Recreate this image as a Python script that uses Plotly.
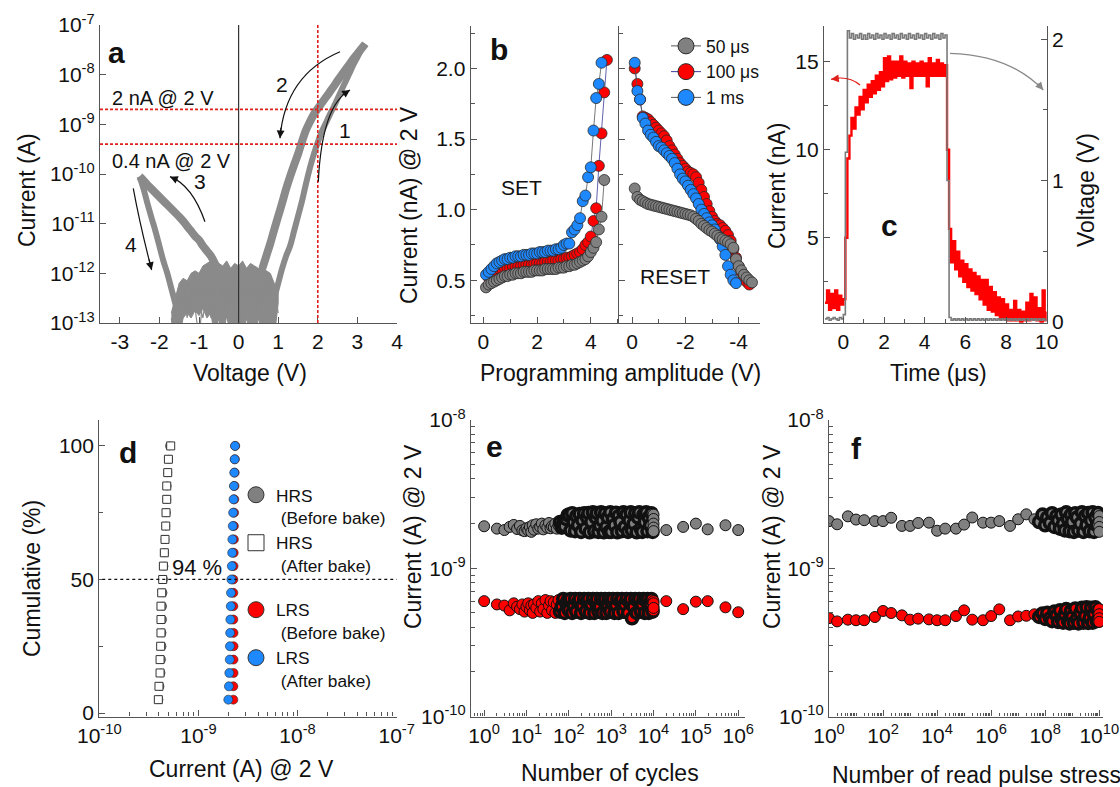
import numpy as np
import plotly.graph_objects as go

W, H = 1120, 787
def fx(px): return px / W
def fy(py): return 1 - py / H

FONT = "Liberation Sans, Arial, sans-serif"
GRAY = "#808080"; RED = "#ff0000"; BLUE = "#1e88ff"; EDGE = "#2a2a2a"; AX = "#555555"
TXT = "#111111"

# ---------------- panel a : I-V sweeps (log10 of current in A) ----------------
a_v_set = [0.9, 1.0, 1.1, 1.2, 1.3, 1.4, 1.5, 1.6, 1.7, 1.8, 1.9, 2.0, 2.1, 2.2, 2.3, 2.4, 2.5, 2.6, 2.7, 2.8, 2.9, 3.0, 3.1, 3.2]
a_log_set = [-12.5, -12.2, -11.9, -11.65, -11.45, -11.15, -10.85, -10.55, -10.2, -9.88, -9.6, -9.36, -9.15, -8.98, -8.81, -8.65, -8.48, -8.31, -8.14, -7.97, -7.8, -7.65, -7.5, -7.38]
a_v_back = [3.2, 3.1, 3.0, 2.9, 2.8, 2.7, 2.6, 2.5, 2.4, 2.3, 2.2, 2.1, 2.0, 1.9, 1.8, 1.7, 1.6, 1.5, 1.4, 1.3, 1.2, 1.1, 1.0, 0.9, 0.8, 0.7, 0.6]
a_log_back = [-7.38, -7.48, -7.58, -7.68, -7.79, -7.9, -8.01, -8.12, -8.24, -8.35, -8.46, -8.57, -8.68, -8.8, -8.95, -9.12, -9.35, -9.6, -9.82, -10.05, -10.3, -10.58, -10.85, -11.12, -11.4, -11.65, -11.9]
a_v_neg = [-0.5, -0.6, -0.7, -0.8, -0.9, -1.0, -1.1, -1.2, -1.3, -1.4, -1.5, -1.6, -1.7, -1.8, -1.9, -2.0, -2.1, -2.2, -2.3, -2.4, -2.5]
a_log_neg = [-12.0, -11.8, -11.65, -11.55, -11.45, -11.33, -11.25, -11.15, -11.05, -10.95, -10.86, -10.78, -10.7, -10.62, -10.54, -10.46, -10.38, -10.3, -10.22, -10.13, -10.05]
a_v_ret = [-2.5, -2.4, -2.3, -2.2, -2.1, -2.0, -1.9, -1.8, -1.7, -1.6, -1.5]
a_log_ret = [-10.05, -10.3, -10.6, -10.88, -11.15, -11.45, -11.75, -12.0, -12.3, -12.6, -12.9]
a_v_noise = [-1.7, -1.6, -1.5, -1.4, -1.3, -1.2, -1.1, -1.0, -0.9, -0.8, -0.7, -0.6, -0.5, -0.4, -0.3, -0.2, -0.1, 0.0, 0.1, 0.2, 0.3, 0.4, 0.5, 0.6, 0.7, 0.8, 0.9, 1.0]
a_log_noise_top = [-12.8, -12.5, -12.2, -12.1, -12.15, -12.0, -11.95, -12.0, -11.85, -11.8, -11.75, -11.9, -11.8, -11.85, -11.75, -11.9, -11.8, -11.85, -11.75, -11.9, -11.8, -11.85, -11.9, -11.85, -11.95, -12.0, -12.2, -12.4]
a_log_noise_bot = [-13.3, -13.3, -13.3, -12.9, -12.8, -12.9, -12.75, -12.85, -12.7, -12.9, -12.8, -13.3, -12.9, -13.3, -12.85, -13.3, -13.3, -13.3, -13.3, -12.9, -13.3, -13.3, -12.9, -13.3, -13.3, -13.3, -13.3, -12.6]
a_log_noise1 = [-13.3, -12.6, -12.3, -12.6, -12.2, -12.5, -12.1, -12.4, -12.0, -12.6, -12.2, -12.5, -11.9, -12.7, -12.3, -12.6, -12.1, -12.8, -12.2, -12.5, -11.9, -12.4, -12.2, -12.6, -12.0, -12.5, -12.9, -13.3]
a_log_noise2 = [-12.9, -13.3, -12.8, -12.2, -12.9, -12.3, -12.7, -13.3, -12.5, -12.2, -12.9, -12.4, -13.3, -12.2, -12.7, -13.3, -12.4, -12.1, -13.3, -12.6, -12.3, -13.3, -12.5, -12.1, -12.8, -13.3, -12.3, -12.8]
a_log_noise3 = [-13.3, -12.4, -13.3, -12.7, -12.4, -12.8, -12.2, -12.6, -12.9, -12.3, -12.6, -13.3, -12.5, -12.3, -12.9, -12.2, -12.6, -13.3, -12.4, -12.2, -12.8, -12.3, -12.7, -13.3, -12.4, -12.1, -13.3, -13.3]
a_read_levels = [2e-9, 4e-10]
a_read_v = 2.0
a_xticks = [-3, -2, -1, 0, 1, 2, 3, 4]
a_yexp = [-13, -12, -11, -10, -9, -8, -7]

# ---------------- panel b : programming amplitude ----------------
b_set_v_50 = [0.1, 0.2, 0.3, 0.4, 0.5, 0.6, 0.7, 0.8, 0.9, 1.0, 1.1, 1.2, 1.3, 1.4, 1.5, 1.6, 1.7, 1.8, 1.9, 2.0, 2.1, 2.2, 2.3, 2.4, 2.5, 2.6, 2.7, 2.8, 2.9, 3.0, 3.1, 3.2, 3.3, 3.4, 3.5, 3.6, 3.7, 3.8, 3.9, 4.0, 4.1, 4.2, 4.3, 4.4, 4.5]
b_set_i_50 = [0.45, 0.47, 0.48, 0.49, 0.50, 0.51, 0.52, 0.53, 0.53, 0.54, 0.54, 0.55, 0.55, 0.55, 0.56, 0.56, 0.56, 0.56, 0.57, 0.57, 0.57, 0.57, 0.58, 0.58, 0.58, 0.58, 0.58, 0.59, 0.59, 0.59, 0.60, 0.60, 0.61, 0.61, 0.62, 0.63, 0.64, 0.65, 0.67, 0.70, 0.73, 0.77, 0.86, 0.95, 1.21]
b_set_v_100 = [0.2, 0.3, 0.4, 0.5, 0.6, 0.7, 0.8, 0.9, 1.0, 1.1, 1.2, 1.3, 1.4, 1.5, 1.6, 1.7, 1.8, 1.9, 2.0, 2.1, 2.2, 2.3, 2.4, 2.5, 2.6, 2.7, 2.8, 2.9, 3.0, 3.1, 3.2, 3.3, 3.4, 3.5, 3.6, 3.7, 3.8, 3.9, 4.0, 4.1, 4.2, 4.3, 4.4, 4.5, 4.6]
b_set_i_100 = [0.52, 0.54, 0.56, 0.57, 0.58, 0.58, 0.59, 0.59, 0.59, 0.60, 0.60, 0.60, 0.60, 0.61, 0.61, 0.61, 0.61, 0.62, 0.62, 0.62, 0.62, 0.63, 0.63, 0.63, 0.64, 0.64, 0.64, 0.65, 0.65, 0.66, 0.66, 0.67, 0.68, 0.69, 0.70, 0.72, 0.75, 0.77, 0.81, 0.92, 1.01, 1.31, 1.54, 1.83, 2.06]
b_set_v_1m = [0.1, 0.2, 0.3, 0.4, 0.5, 0.6, 0.7, 0.8, 0.9, 1.0, 1.1, 1.2, 1.3, 1.4, 1.5, 1.6, 1.7, 1.8, 1.9, 2.0, 2.1, 2.2, 2.3, 2.4, 2.5, 2.6, 2.7, 2.8, 2.9, 3.0, 3.1, 3.2, 3.3, 3.4, 3.5, 3.6, 3.7, 3.8, 3.9, 4.0, 4.1, 4.2, 4.3, 4.4]
b_set_i_1m = [0.54, 0.56, 0.58, 0.60, 0.62, 0.63, 0.64, 0.65, 0.65, 0.66, 0.66, 0.67, 0.67, 0.67, 0.68, 0.68, 0.68, 0.69, 0.69, 0.69, 0.70, 0.70, 0.70, 0.71, 0.71, 0.71, 0.72, 0.72, 0.73, 0.75, 0.76, 0.76, 0.84, 0.86, 0.89, 0.94, 1.06, 1.10, 1.23, 1.30, 1.56, 1.79, 1.89, 2.04]
b_rst_v_50 = [-0.1, -0.2, -0.3, -0.4, -0.5, -0.6, -0.7, -0.8, -0.9, -1.0, -1.1, -1.2, -1.3, -1.4, -1.5, -1.6, -1.7, -1.8, -1.9, -2.0, -2.1, -2.2, -2.3, -2.4, -2.5, -2.6, -2.7, -2.8, -2.9, -3.0, -3.1, -3.2, -3.3, -3.4, -3.5, -3.6, -3.7, -3.8, -3.9, -4.0, -4.1, -4.2, -4.3, -4.4, -4.5]
b_rst_i_50 = [1.15, 1.09, 1.07, 1.06, 1.05, 1.04, 1.035, 1.03, 1.025, 1.02, 1.015, 1.01, 1.005, 1.0, 0.995, 0.99, 0.985, 0.98, 0.975, 0.97, 0.965, 0.96, 0.95, 0.935, 0.92, 0.90, 0.885, 0.87, 0.855, 0.845, 0.83, 0.815, 0.80, 0.79, 0.78, 0.77, 0.755, 0.73, 0.65, 0.60, 0.57, 0.54, 0.52, 0.50, 0.485]
b_rst_v_100 = [-0.1, -0.2, -0.3, -0.4, -0.5, -0.6, -0.7, -0.8, -0.9, -1.0, -1.1, -1.2, -1.3, -1.4, -1.5, -1.6, -1.7, -1.8, -1.9, -2.0, -2.1, -2.2, -2.3, -2.4, -2.5, -2.6, -2.7, -2.8, -2.9, -3.0, -3.1, -3.2, -3.3, -3.4, -3.5, -3.6, -3.7, -3.8, -3.9, -4.0, -4.1, -4.2, -4.3, -4.4]
b_rst_i_100 = [2.00, 1.89, 1.78, 1.66, 1.65, 1.64, 1.62, 1.60, 1.58, 1.56, 1.54, 1.52, 1.49, 1.45, 1.42, 1.39, 1.36, 1.33, 1.31, 1.29, 1.27, 1.26, 1.25, 1.23, 1.19, 1.14, 1.09, 1.04, 0.99, 0.95, 0.92, 0.90, 0.89, 0.87, 0.85, 0.82, 0.78, 0.72, 0.66, 0.60, 0.56, 0.52, 0.49, 0.47]
b_rst_v_1m = [-0.1, -0.2, -0.3, -0.4, -0.5, -0.6, -0.7, -0.8, -0.9, -1.0, -1.1, -1.2, -1.3, -1.4, -1.5, -1.6, -1.7, -1.8, -1.9, -2.0, -2.1, -2.2, -2.3, -2.4, -2.5, -2.6, -2.7, -2.8, -2.9, -3.0, -3.1, -3.2, -3.3, -3.4, -3.5, -3.6, -3.7, -3.8, -3.9]
b_rst_i_1m = [2.04, 1.84, 1.78, 1.65, 1.61, 1.56, 1.53, 1.51, 1.48, 1.45, 1.44, 1.42, 1.40, 1.38, 1.36, 1.33, 1.29, 1.25, 1.22, 1.20, 1.17, 1.14, 1.11, 1.08, 1.04, 1.00, 0.97, 0.94, 0.91, 0.89, 0.86, 0.82, 0.79, 0.74, 0.68, 0.60, 0.54, 0.50, 0.48]
b_labels = ["50 μs", "100 μs", "1 ms"]

# ---------------- panel c : pulse response ----------------
c_time = np.round(np.arange(-0.9, 10.0001, 0.1), 2)
c_current = [1.3, 2.0, 0.9, 1.8, 1.0, 2.0, 0.9, 1.7, 1.2,
             1.5, 5.0, 9.5, 10.8, 11.8, 11.2, 12.4, 12.0, 13.0, 12.3,
             13.4, 12.7, 13.7, 13.0, 13.9, 13.2, 14.2, 13.4, 14.4, 13.6,
             15.2, 13.9, 15.3, 14.0, 15.0, 14.1, 15.0, 14.2, 15.3, 14.1,
             15.0, 14.2, 14.9, 13.5, 15.0, 14.2, 14.9, 14.2, 15.0, 14.2,
             14.9, 13.6, 15.2, 14.2, 14.9, 14.2, 15.1, 14.2, 14.9, 14.2,
             14.8, 10.0, 5.5, 3.6, 4.8, 3.2, 4.2, 2.8, 3.7, 2.5,
             3.5, 2.2, 3.2, 2.0, 3.0, 1.8, 2.8, 1.5, 2.6, 1.2,
             2.6, 0.9, 2.2, 0.8, 1.9, 0.6, 1.6, 0.4, 1.5, 0.4,
             1.2, 0.3, 0.9, 0.3, 1.4, 0.3, 0.9, 0.2, 0.8, 0.3,
             1.3, 0.3, 1.8, 0.4, 1.6, 0.3, 1.0, 0.2, 2.0, 0.3, 0.8]
c_voltage = [0.02, 0.03, 0.01, 0.02, 0.03, 0.02, 0.01, 0.03, 0.02,
             0.05, 1.20, 2.06, 2.01, 2.04, 2.00, 2.03, 2.01, 2.04, 2.00,
             2.03, 2.00, 2.04, 2.01, 2.03, 2.00, 2.04, 2.01, 2.03, 2.00,
             2.04, 2.01, 2.03, 2.00, 2.04, 2.01, 2.03, 2.00, 2.04, 2.01,
             2.03, 2.00, 2.04, 2.01, 2.03, 2.00, 2.04, 2.01, 2.03, 2.00,
             2.04, 2.01, 2.03, 2.00, 2.04, 2.01, 2.03, 2.00, 2.04, 2.01,
             2.03, 1.00, 0.03, 0.01, 0.02, 0.01, 0.02, 0.01, 0.02, 0.01,
             0.02, 0.01, 0.02, 0.01, 0.02, 0.01, 0.02, 0.01, 0.02, 0.01,
             0.02, 0.01, 0.02, 0.01, 0.02, 0.01, 0.02, 0.01, 0.02, 0.01,
             0.02, 0.01, 0.02, 0.01, 0.02, 0.01, 0.02, 0.01, 0.02, 0.01,
             0.02, 0.01, 0.02, 0.01, 0.02, 0.01, 0.02, 0.01, 0.02, 0.01, 0.02]

# ---------------- panel d : retention distribution ----------------
d_cum = [5, 10, 15, 20, 25, 30, 35, 40, 45, 50, 55, 60, 65, 70, 75, 80, 85, 90, 95, 100]
d_hrs_before = [4.0, 4.1, 4.2, 4.25, 4.3, 4.3, 4.35, 4.35, 4.4, 4.45, 4.5, 4.55, 4.6, 4.7, 4.75, 4.8, 4.85, 4.9, 5.0, 5.1]      # x1e-10 A
d_hrs_after = [3.94, 4.00, 4.10, 4.10, 4.16, 4.19, 4.19, 4.19, 4.26, 4.36, 4.43, 4.53, 4.60, 4.68, 4.71, 4.79, 4.79, 4.90, 4.98, 5.25]  # x1e-10 A
d_lrs_before = [2.25, 2.25, 2.26, 2.26, 2.26, 2.26, 2.25, 2.25, 2.25, 2.25, 2.26, 2.27, 2.28, 2.28, 2.29, 2.30, 2.31, 2.32, 2.33, 2.35]  # x1e-9 A
d_lrs_after = [2.00, 2.03, 2.05, 2.07, 2.08, 2.09, 2.10, 2.12, 2.13, 2.15, 2.17, 2.19, 2.20, 2.22, 2.24, 2.26, 2.28, 2.30, 2.32, 2.34]   # x1e-9 A

# ---------------- panel e : endurance ----------------
e_cycles = [1, 2, 3, 4, 5, 6, 7, 8, 9, 10,
            11, 12, 13, 14, 15, 17, 19, 21, 23, 25,
            28, 31, 34, 37, 40, 44, 48, 52, 57, 62,
            68, 74, 80, 87, 94, 100, 110, 120, 130, 140,
            150, 165, 180, 195, 210, 230, 250, 270, 290, 310,
            340, 370, 400, 430, 460, 500, 540, 580, 620, 670,
            720, 770, 830, 890, 950, 1000, 1100, 1200, 1300, 1400,
            1500, 1650, 1800, 1950, 2100, 2300, 2500, 2700, 2900, 3100,
            3400, 3700, 4000, 4300, 4600, 5000, 5400, 5800, 6200, 6700,
            7200, 7700, 8300, 8900, 9500, 10000, 10000, 10000, 10000, 10000,
            20000, 50000, 100000, 190000, 500000, 1000000]
e_hrs = [1.92, 1.85, 1.81, 1.90, 1.96, 1.84, 1.93, 1.80, 1.78, 1.86,
         1.80, 1.90, 1.76, 1.95, 1.82, 1.98, 1.85, 1.90, 2.00, 1.83,
         1.95, 1.88, 2.02, 1.86, 1.92, 1.90, 2.00, 1.85, 1.95, 2.05,
         1.88, 2.02, 1.92, 2.15, 2.28, 2.30, 1.80, 2.35, 2.05, 1.78,
         2.25, 1.95, 2.32, 1.76, 2.10, 2.35, 1.85, 2.20, 2.36, 1.75,
         2.05, 2.38, 1.78, 2.20, 2.36, 1.76, 1.95, 2.38, 2.10, 1.75,
         2.35, 1.90, 2.20, 1.76, 2.38, 1.76, 2.15, 1.95, 2.37, 1.75,
         2.25, 2.05, 1.78, 2.38, 1.90, 2.30, 1.76, 2.10, 2.38, 1.80,
         2.00, 2.35, 1.75, 2.20, 2.38, 1.85, 1.76, 2.30, 2.05, 2.38,
         1.78, 2.20, 1.95, 2.35, 1.76, 2.30, 2.15, 2.00, 1.88, 1.78,
         1.81, 1.90, 2.00, 1.83, 1.95, 1.81]   # nA
e_lrs = [0.60, 0.57, 0.56, 0.52, 0.58, 0.55, 0.53, 0.57, 0.51, 0.55,
         0.58, 0.52, 0.56, 0.50, 0.57, 0.54, 0.60, 0.51, 0.58, 0.53,
         0.61, 0.50, 0.56, 0.60, 0.52, 0.59, 0.50, 0.57, 0.61, 0.51,
         0.55, 0.62, 0.50, 0.58, 0.61, 0.52, 0.62, 0.50, 0.57, 0.62,
         0.51, 0.59, 0.62, 0.50, 0.56, 0.62, 0.51, 0.60, 0.62, 0.50,
         0.57, 0.62, 0.50, 0.59, 0.62, 0.51, 0.55, 0.62, 0.50, 0.60,
         0.62, 0.50, 0.57, 0.62, 0.51, 0.59, 0.62, 0.50, 0.56, 0.62,
         0.50, 0.60, 0.62, 0.51, 0.57, 0.62, 0.50, 0.59, 0.62, 0.46,
         0.55, 0.62, 0.50, 0.60, 0.62, 0.51, 0.57, 0.62, 0.50, 0.61,
         0.62, 0.50, 0.58, 0.62, 0.51, 0.60, 0.55, 0.52, 0.58, 0.54,
         0.60, 0.53, 0.595, 0.60, 0.545, 0.505]   # nA

# ---------------- panel f : read disturb ----------------
f_pulses = [1, 2, 5, 10, 20, 50, 100, 200, 500, 1e3, 2e3, 5e3, 1e4, 2e4, 5e4, 1e5, 2e5, 5e5, 1e6, 2e6, 5e6, 1e7, 2e7, 4e7,
            6e7, 8e7, 1e8, 1.2e8, 1.5e8, 1.8e8, 2.2e8, 2.6e8, 3e8, 3.5e8, 4e8, 4.6e8, 5.3e8, 6e8, 7e8, 8e8, 9e8, 1e9,
            1.15e9, 1.3e9, 1.5e9, 1.7e9, 2e9, 2.3e9, 2.6e9, 3e9, 3.4e9, 3.9e9, 4.4e9, 5e9, 5.7e9, 6.4e9, 7.2e9, 8.1e9, 9e9, 1e10,
            1e10, 1e10, 1e10, 1e10]
f_hrs = [2.08, 1.98, 2.24, 2.13, 2.11, 2.08, 2.08, 2.19, 1.93, 1.93, 2.02, 2.03, 1.79, 1.85, 1.85, 1.97, 2.20, 2.03, 2.03, 2.08, 1.93, 2.14, 2.31, 2.14,
         2.05, 2.30, 1.95, 2.20, 2.02, 2.35, 1.90, 2.25, 2.10, 1.85, 2.30, 2.00, 1.80, 2.38, 2.15, 1.78, 2.30, 2.05,
         1.76, 2.35, 2.20, 1.80, 2.00, 2.38, 1.76, 2.25, 1.95, 2.36, 1.78, 2.10, 2.38, 1.76, 2.20, 1.95, 2.36, 1.80,
         2.25, 2.05, 1.90, 1.76]   # nA
f_lrs = [0.461, 0.438, 0.450, 0.446, 0.446, 0.469, 0.515, 0.499, 0.481, 0.450, 0.457, 0.452, 0.446, 0.446, 0.476, 0.520, 0.450, 0.446, 0.476, 0.528, 0.446, 0.473, 0.478, 0.489,
         0.470, 0.495, 0.455, 0.500, 0.460, 0.440, 0.510, 0.480, 0.435, 0.520, 0.455, 0.430, 0.490, 0.530, 0.440, 0.425, 0.515, 0.470,
         0.430, 0.535, 0.455, 0.425, 0.500, 0.540, 0.430, 0.475, 0.545, 0.428, 0.460, 0.540, 0.430, 0.490, 0.545, 0.440, 0.520, 0.435,
         0.530, 0.490, 0.460, 0.435]   # nA

# =====================================================================
fig = go.Figure()
def na(v): return [x * 1e-9 for x in v]
def pw(v): return [10.0 ** x for x in v]

# ---- panel a traces
GA = "#8a8a8a"
fig.add_trace(go.Scatter(x=a_v_noise + a_v_noise[::-1], y=pw(a_log_noise_top) + pw(a_log_noise_bot)[::-1],
                         fill="toself", fillcolor=GA, line=dict(color=GA, width=1), mode="lines",
                         xaxis="x", yaxis="y", showlegend=False, hoverinfo="skip"))
for arr in (a_log_noise1, a_log_noise2, a_log_noise3):
    fig.add_trace(go.Scatter(x=a_v_noise, y=pw(arr), mode="lines", line=dict(color=GA, width=1.2),
                             xaxis="x", yaxis="y", showlegend=False, hoverinfo="skip"))
for vv, ll, w in ((a_v_set, a_log_set, 6), (a_v_back, a_log_back, 8), (a_v_neg, a_log_neg, 8), (a_v_ret, a_log_ret, 6)):
    fig.add_trace(go.Scatter(x=vv, y=pw(ll), mode="lines", line=dict(color=GA, width=w, shape="spline"),
                             xaxis="x", yaxis="y", showlegend=False, hoverinfo="skip"))

# ---- panel b traces
b_line_cols = ["#555555", "#3a3a9a", "#555555"]
b_fill = [GRAY, RED, BLUE]
b_set = [(b_set_v_50, b_set_i_50), (b_set_v_100, b_set_i_100), (b_set_v_1m, b_set_i_1m)]
b_rst = [(b_rst_v_50, b_rst_i_50), (b_rst_v_100, b_rst_i_100), (b_rst_v_1m, b_rst_i_1m)]
for k in (1, 2, 0):
    mk = dict(size=11, color=b_fill[k], line=dict(color=EDGE, width=0.8))
    fig.add_trace(go.Scatter(x=b_set[k][0], y=b_set[k][1], mode="lines+markers", marker=mk,
                             line=dict(color=b_line_cols[k], width=0.8), xaxis="x2", yaxis="y2", showlegend=False))
    fig.add_trace(go.Scatter(x=b_rst[k][0], y=b_rst[k][1], mode="lines+markers", marker=mk,
                             line=dict(color=b_line_cols[k], width=0.8), xaxis="x3", yaxis="y3", showlegend=False))
for k in range(3):
    fig.add_trace(go.Scatter(x=[None], y=[None], mode="lines+markers", name=b_labels[k],
                             marker=dict(size=16, color=b_fill[k], line=dict(color=EDGE, width=1)),
                             line=dict(color=b_line_cols[k], width=1), xaxis="x2", yaxis="y2",
                             legend="legend", showlegend=True))

# ---- panel c traces
fig.add_trace(go.Scatter(x=c_time, y=c_current, mode="lines", line=dict(color=RED, width=2.4, shape="hv"),
                         xaxis="x4", yaxis="y4", showlegend=False))
fig.add_trace(go.Scatter(x=c_time, y=c_voltage, mode="lines", line=dict(color="#7a7a7a", width=1.6, shape="hv"),
                         xaxis="x4", yaxis="y5", showlegend=False))

# ---- panel d traces
fig.add_trace(go.Scatter(x=[v * 1e-10 for v in d_hrs_before], y=d_cum, mode="markers",
                         marker=dict(size=8, color=GRAY, line=dict(color=EDGE, width=0.6)),
                         xaxis="x5", yaxis="y6", showlegend=False))
fig.add_trace(go.Scatter(x=[v * 1e-10 for v in d_hrs_after], y=d_cum, mode="markers",
                         marker=dict(size=8, symbol="square", color="white", line=dict(color="#333", width=1)),
                         xaxis="x5", yaxis="y6", showlegend=False))
fig.add_trace(go.Scatter(x=na(d_lrs_before), y=d_cum, mode="markers",
                         marker=dict(size=9, color=RED, line=dict(color=EDGE, width=0.6)),
                         xaxis="x5", yaxis="y6", showlegend=False))
fig.add_trace(go.Scatter(x=na(d_lrs_after), y=d_cum, mode="markers",
                         marker=dict(size=9, color=BLUE, line=dict(color=EDGE, width=0.6)),
                         xaxis="x5", yaxis="y6", showlegend=False))
d_leg = [("HRS<br>\u00a0(Before bake)", dict(color=GRAY, symbol="circle"), "HRS"),
         ("HRS<br>\u00a0(After bake)", dict(color="white", symbol="square"), "HRS"),
         ("LRS<br>\u00a0(Before bake)", dict(color=RED, symbol="circle"), "LRS"),
         ("LRS<br>\u00a0(After bake)", dict(color=BLUE, symbol="circle"), "LRS")]
for name, m, grp in d_leg:
    fig.add_trace(go.Scatter(x=[None], y=[None], mode="markers", name=name, legendgroup=grp,
                             marker=dict(size=16, line=dict(color="#333", width=1), **m),
                             xaxis="x5", yaxis="y6", legend="legend2", showlegend=True))

# ---- panel e, f traces (dense stretches drawn with heavier outlines, as many overlapping points do)
for xs, hs, ls, xa, ya, lo, hi in ((e_cycles, e_hrs, e_lrs, "x6", "y7", 60, 1e4),
                                   (f_pulses, f_hrs, f_lrs, "x7", "y8", 5e7, 1e10)):
    lw = [3.6 if lo <= v < hi else 1.0 for v in xs]
    fig.add_trace(go.Scatter(x=xs, y=na(hs), mode="markers",
                             marker=dict(size=11, color=GRAY, line=dict(color="#111", width=lw)),
                             xaxis=xa, yaxis=ya, showlegend=False))
    fig.add_trace(go.Scatter(x=xs, y=na(ls), mode="markers",
                             marker=dict(size=11, color=RED, line=dict(color="#111", width=lw)),
                             xaxis=xa, yaxis=ya, showlegend=False))

# =====================================================================
TF = dict(size=21, color=TXT, family=FONT)
def axis(dom, anchor, **kw):
    d = dict(domain=dom, anchor=anchor, showline=True, linecolor=AX, linewidth=1.3, ticks="inside",
             ticklen=6, tickwidth=1.2, tickcolor=AX, tickfont=TF, showgrid=False, zeroline=False,
             automargin=False)
    d.update(kw)
    return d

def sup(e): return "10<sup>%d</sup>" % e
def minor_log(e0, e1): return [m * 10.0 ** e for e in range(e0, e1) for m in range(2, 10)]

ya_dom = [fy(323), fy(25)]
yb_dom = [fy(322.7), fy(26)]
ylow_dom = [fy(716.5), fy(420)]

layout = dict(
    width=W, height=H, margin=dict(l=0, r=0, t=0, b=0, pad=0, autoexpand=False),
    paper_bgcolor="white", plot_bgcolor="white",
    font=dict(family=FONT, color=TXT, size=20), showlegend=True,
    xaxis=axis([fx(100), fx(397)], "y", range=[-3.5, 4], tickmode="array", tickvals=a_xticks,
               ticktext=[str(v) for v in a_xticks]),
    yaxis=axis(ya_dom, "x", type="log", range=[-13, -7], tickmode="array",
               tickvals=[10.0 ** e for e in a_yexp], ticktext=[sup(e) for e in a_yexp]),
    xaxis2=axis([fx(470.7), fx(619)], "y2", range=[-0.47, 5.05], tickvals=[0, 2, 4],
                minor=dict(dtick=1, ticks="inside", ticklen=4, tickcolor=AX)),
    yaxis2=axis(yb_dom, "x2", range=[0.2, 2.3], tickvals=[0.5, 1.0, 1.5, 2.0], tickformat=".1f",
                minor=dict(dtick=0.25, ticks="inside", ticklen=4, tickcolor=AX)),
    xaxis3=axis([fx(619), fx(760)], "y3", range=[0.49, -4.8], tickvals=[0, -2, -4], ticktext=["0", "-2", "-4"],
                minor=dict(tickvals=[-1, -3], ticks="inside", ticklen=4, tickcolor=AX)),
    yaxis3=axis(yb_dom, "x3", range=[0.2, 2.3], showticklabels=False, tickvals=[0.5, 1.0, 1.5, 2.0],
                minor=dict(dtick=0.25, ticks="inside", ticklen=4, tickcolor=AX)),
    xaxis4=axis([fx(824), fx(1046.7)], "y4", range=[-0.95, 10], tickvals=[0, 2, 4, 6, 8, 10],
                minor=dict(dtick=1, ticks="inside", ticklen=4, tickcolor=AX)),
    yaxis4=axis(yb_dom, "x4", range=[0.17, 17.03], tickvals=[5, 10, 15],
                minor=dict(dtick=2.5, ticks="inside", ticklen=4, tickcolor=AX)),
    yaxis5=axis(yb_dom, "x4", overlaying="y4", side="right", range=[-0.007, 2.094], tickvals=[0, 1, 2],
                minor=dict(dtick=0.5, ticks="inside", ticklen=4, tickcolor=AX)),
    xaxis5=axis([fx(99.3), fx(396.7)], "y6", type="log", range=[-10, -7], tickmode="array",
                tickvals=[10.0 ** e for e in range(-10, -6)], ticktext=[sup(e) for e in range(-10, -6)],
                minor=dict(tickvals=minor_log(-10, -7), ticks="inside", ticklen=4, tickcolor=AX)),
    yaxis6=axis(ylow_dom, "x5", range=[-1.3, 109.7], tickvals=[0, 50, 100],
                minor=dict(dtick=25, ticks="inside", ticklen=4, tickcolor=AX)),
    xaxis6=axis([fx(471), fx(745)], "y7", type="log", range=[-0.31, 6.16], tickmode="array",
                tickvals=[10.0 ** e for e in range(0, 7)], ticktext=[sup(e) for e in range(0, 7)],
                minor=dict(tickvals=minor_log(-1, 7), ticks="inside", ticklen=3, tickcolor=AX)),
    yaxis7=axis(ylow_dom, "x6", type="log", range=[-10, -8], tickmode="array",
                tickvals=[1e-10, 1e-9, 1e-8], ticktext=[sup(-10), sup(-9), sup(-8)],
                minor=dict(tickvals=minor_log(-10, -8), ticks="inside", ticklen=4, tickcolor=AX)),
    xaxis7=axis([fx(829), fx(1103)], "y8", type="log", range=[0, 10.14], tickmode="array",
                tickvals=[10.0 ** e for e in range(0, 11, 2)], ticktext=[sup(e) for e in range(0, 11, 2)],
                minor=dict(tickvals=[10.0 ** e for e in range(1, 11, 2)] + minor_log(0, 10), ticks="inside",
                           ticklen=3, tickcolor=AX)),
    yaxis8=axis(ylow_dom, "x7", type="log", range=[-10, -8], tickmode="array",
                tickvals=[1e-10, 1e-9, 1e-8], ticktext=[sup(-10), sup(-9), sup(-8)],
                minor=dict(tickvals=minor_log(-10, -8), ticks="inside", ticklen=4, tickcolor=AX)),
    legend=dict(x=fx(666), y=fy(28), xanchor="left", yanchor="top", bgcolor="rgba(0,0,0,0)",
                font=dict(size=17.5, family=FONT, color=TXT), itemwidth=30, tracegroupgap=0),
    legend2=dict(x=fx(236), y=fy(477), xanchor="left", yanchor="top", bgcolor="rgba(0,0,0,0)",
                 font=dict(size=17.3, family=FONT, color=TXT), itemwidth=30, tracegroupgap=19,
                 valign="top", traceorder="grouped"),
)
fig.update_layout(**layout)

# ---- reference lines
shapes = []
shapes.append(dict(type="line", xref="x", yref="y domain", x0=0, x1=0, y0=0, y1=1, line=dict(color="#333", width=1.2)))
shapes.append(dict(type="line", xref="x", yref="y domain", x0=a_read_v, x1=a_read_v, y0=0, y1=1,
                   line=dict(color="#e0201a", width=1.6, dash="3px,2px")))
for lv in a_read_levels:
    shapes.append(dict(type="line", xref="x domain", yref="y", x0=0, x1=1, y0=lv, y1=lv,
                       line=dict(color="#e0201a", width=1.6, dash="3px,2px")))
shapes.append(dict(type="line", xref="x5 domain", yref="y6", x0=0.01, x1=1, y0=50, y1=50,
                   line=dict(color="#111", width=1.3, dash="3px,3px")))

# curved arrows (paper coords from pixel positions)
def qpath(p0, c, p1):
    return "M %.4f,%.4f Q %.4f,%.4f %.4f,%.4f" % (fx(p0[0]), fy(p0[1]), fx(c[0]), fy(c[1]), fx(p1[0]), fy(p1[1]))
arrows = [((318.3, 181.7), (322, 105), (350, 90), "#111", (-9, 6)),
          ((340, 51.7), (285, 75), (280, 138.3), "#111", (1, -12)),
          ((205, 221.7), (192, 185), (170, 176.7), "#111", (9, 4)),
          ((133.3, 188.3), (140, 225), (151.7, 270), "#111", (-3, -12)),
          ((860, 85), (848, 75), (831, 79.3), "#e0201a", (9, -1)),
          ((950, 53.3), (1010, 55), (1043.3, 90), "#888888", (-7, -8))]
annotations = []
for p0, c, p1, col, off in arrows:
    shapes.append(dict(type="path", xref="paper", yref="paper", path=qpath(p0, c, p1),
                       line=dict(color=col, width=1.2)))
    annotations.append(dict(xref="paper", yref="paper", x=fx(p1[0]), y=fy(p1[1]), ax=off[0], ay=off[1],
                            axref="pixel", ayref="pixel", text="", showarrow=True, arrowhead=2,
                            arrowsize=1.3, arrowwidth=1.2, arrowcolor=col, standoff=0))
fig.update_layout(shapes=shapes)

def txt(s, x, y, size=20, angle=0, xanchor="center", bold=False):
    annotations.append(dict(xref="paper", yref="paper", x=fx(x), y=fy(y), text=("<b>%s</b>" % s) if bold else s,
                            showarrow=False, font=dict(size=size, family=FONT, color=TXT), textangle=angle,
                            xanchor=xanchor, yanchor="middle"))

# panel letters
for s, x, y in (("a", 116, 52), ("b", 499, 49), ("c", 889, 225), ("d", 128, 452), ("e", 494, 447), ("f", 856, 448)):
    txt(s, x, y, size=30, bold=True)
# axis titles
txt("Current (A)", 27, 190, size=23, angle=-90)
txt("Voltage (V)", 250, 373, size=23)
txt("Current (nA) @ 2 V", 409, 205, size=23, angle=-90)
txt("Programming amplitude (V)", 620, 373, size=23)
txt("Current (nA)", 777, 186, size=23, angle=-90)
txt("Voltage (V)", 1086, 190, size=23, angle=-90)
txt("Time (μs)", 938, 373, size=23)
txt("Cumulative (%)", 32, 579, size=23, angle=-90)
txt("Current (A) @ 2 V", 241, 769, size=23)
txt("Current (A) @ 2 V", 413, 537, size=23, angle=-90)
txt("Number of cycles", 610, 773, size=23)
txt("Current (A) @ 2 V", 772, 537, size=23, angle=-90)
txt("Number of read pulse stress", 830, 775, size=23, xanchor="left")
# in-plot labels
txt("2 nA @ 2 V", 110, 98, size=20, xanchor="left")
txt("0.4 nA @ 2 V", 110, 161, size=20, xanchor="left")
txt("1", 345, 130, size=21); txt("2", 282, 85, size=21); txt("3", 200, 181, size=21); txt("4", 131, 245, size=21)
txt("SET", 521, 188, size=21)
txt("RESET", 675, 276, size=21)
txt("94 %", 197, 567, size=22)
fig.update_layout(annotations=annotations)

fig.write_html("out.html", config={"displayModeBar": False},
               post_script="document.body.style.margin='0';")
